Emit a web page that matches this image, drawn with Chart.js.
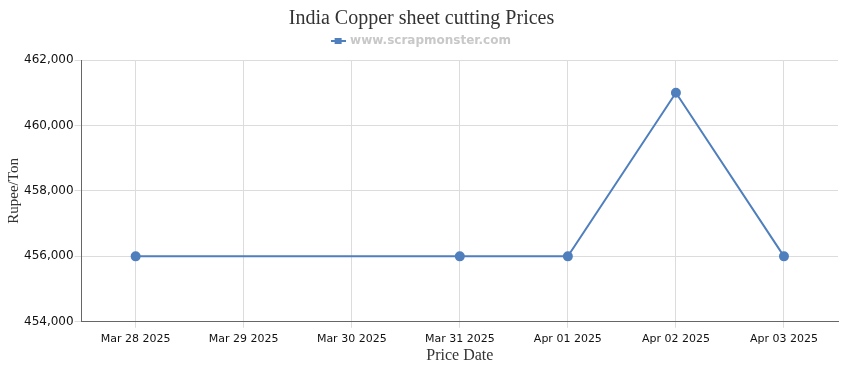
<!DOCTYPE html>
<html>
<head>
<meta charset="utf-8">
<script src="https://cdn.jsdelivr.net/npm/chart.js@4"></script>
<style>
  html, body { margin: 0; padding: 0; background: #fff; }
  #wrap { width: 850px; height: 370px; }
</style>
</head>
<body>
<div id="wrap"><canvas id="priceChart"></canvas></div>
<script>
const dates = ["Mar 28 2025", "Mar 29 2025", "Mar 30 2025", "Mar 31 2025", "Apr 01 2025", "Apr 02 2025", "Apr 03 2025"];
const prices = [456000, null, null, 456000, 456000, 461000, 456000];
const yTicks = [454000, 456000, 458000, 460000, 462000];

const lineColor = "#4f7fbd";

// legend marker: short line with a square in the middle
const marker = document.createElement("canvas");
marker.width = 15;
marker.height = 8;
const mctx = marker.getContext("2d");
mctx.fillStyle = lineColor;
mctx.fillRect(0, 3, 15, 2);
mctx.fillRect(4, 1, 7, 6);

// extra room under the legend
const legendMargin = {
	id: "legendMargin",
	beforeInit(chart) {
		const fit = chart.legend.fit;
		chart.legend.fit = function () {
			fit.bind(chart.legend)();
			this.height += 3;
		};
	},
};

const ctx = document.getElementById("priceChart");

new Chart(ctx, {
	type: "line",
	data: {
		labels: dates,
		datasets: [
			{
				label: "www.scrapmonster.com",
				data: prices,
				borderColor: lineColor,
				backgroundColor: lineColor,
				borderWidth: 2,
				pointRadius: 4,
				pointHoverRadius: 4,
				spanGaps: true,
				tension: 0,
			},
		],
	},
	options: {
		responsive: true,
		maintainAspectRatio: false,
		animation: false,
		layout: { padding: { left: 5, right: 12, top: 6, bottom: 6 } },
		plugins: {
			title: {
				display: true,
				text: "India Copper sheet cutting Prices",
				color: "#333",
				font: { family: "Liberation Serif", size: 20, weight: "normal" },
				padding: { top: 1, bottom: -2 },
			},
			legend: {
				display: true,
				labels: {
					color: "#c8c8c8",
					font: { family: "DejaVu Sans", size: 12, weight: "bold" },
					usePointStyle: true,
					boxHeight: 8,
					padding: 6,
					generateLabels: (chart) =>
						chart.data.datasets.map((ds, i) => ({
							text: ds.label,
							pointStyle: marker,
							fontColor: "#c8c8c8",
							datasetIndex: i,
							hidden: false,
						})),
				},
			},
			tooltip: { enabled: false },
		},
		scales: {
			x: {
				offset: true,
				grid: {
					color: "#dcdcdc",
					offset: false,
					tickLength: 6,
					drawTicks: true,
				},
				border: { color: "#666", width: 1 },
				ticks: {
					color: "#111",
					font: { family: "DejaVu Sans", size: 11 },
					maxRotation: 0,
					autoSkip: false,
					padding: 5,
				},
				title: {
					display: true,
					text: "Price Date",
					color: "#333",
					font: { family: "Liberation Serif", size: 16, lineHeight: 1 },
					padding: { top: -3, bottom: 0 },
				},
			},
			y: {
				min: yTicks[0],
				max: yTicks[yTicks.length - 1],
				afterBuildTicks: (axis) => {
					axis.ticks = yTicks.map((v) => ({ value: v }));
				},
				grid: { color: "#dcdcdc", tickLength: 7 },
				border: { color: "#666", width: 1 },
				ticks: {
					color: "#111",
					font: { family: "DejaVu Sans", size: 12 },
					padding: 1,
					callback: (v) => v.toLocaleString("en-US"),
				},
				title: {
					display: true,
					text: "Rupee/Ton",
					color: "#333",
					font: { family: "Liberation Serif", size: 15 },
					padding: { top: 0, bottom: 0 },
				},
			},
		},
	},
	plugins: [legendMargin],
});
</script>
</body>
</html>
